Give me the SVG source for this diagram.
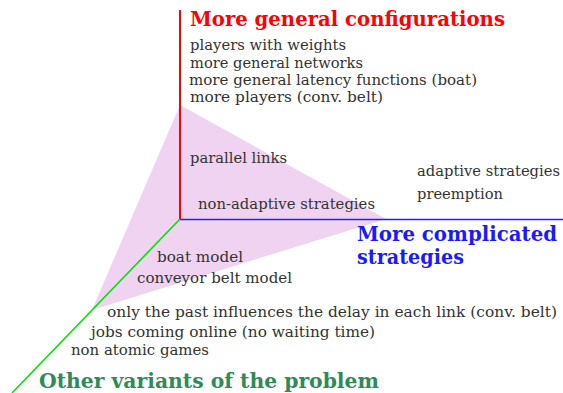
<svg xmlns="http://www.w3.org/2000/svg" width="563" height="393" viewBox="0 0 563 393">
  <style>
    .t { font-family: "DejaVu Serif", "Liberation Serif", serif; font-size: 15px; fill: #333333; }
    .h { font-family: "DejaVu Serif", "Liberation Serif", serif; font-size: 20px; font-weight: bold; }
    .axis { fill: none; stroke-linecap: butt; }
  </style>
  <rect width="563" height="393" fill="#ffffff"/>

  <!-- shaded region spanned by the three axes -->
  <polygon id="region" points="180,105 386,219 92,310" fill="#efd3f0"/>

  <!-- axes -->
  <g id="connectors">
    <line class="axis" x1="180" y1="10" x2="180" y2="219" stroke="#ff0000" stroke-width="2"/>
    <line class="axis" x1="180" y1="219.5" x2="563" y2="219.5" stroke="#2020ff" stroke-width="1.5"/>
    <line class="axis" x1="180" y1="219" x2="12" y2="393" stroke="#00e600" stroke-width="1.6"/>
  </g>

  <!-- vertical axis: configurations -->
  <g id="configurations">
    <text class="h" x="190" y="26" fill="#ff0000" textLength="315" lengthAdjust="spacingAndGlyphs">More general configurations</text>
    <text class="t" x="190" y="50" textLength="156" lengthAdjust="spacingAndGlyphs">players with weights</text>
    <text class="t" x="190" y="67.5" textLength="173" lengthAdjust="spacingAndGlyphs">more general networks</text>
    <text class="t" x="189" y="85" textLength="288" lengthAdjust="spacingAndGlyphs">more general latency functions (boat)</text>
    <text class="t" x="190" y="102" textLength="193" lengthAdjust="spacingAndGlyphs">more players (conv. belt)</text>
    <text class="t" x="190" y="163" textLength="97" lengthAdjust="spacingAndGlyphs">parallel links</text>
  </g>

  <!-- horizontal axis: strategies -->
  <g id="strategies">
    <text class="t" x="198" y="209" textLength="177" lengthAdjust="spacingAndGlyphs">non-adaptive strategies</text>
    <text class="t" x="417" y="176" textLength="143" lengthAdjust="spacingAndGlyphs">adaptive strategies</text>
    <text class="t" x="417" y="199" textLength="86" lengthAdjust="spacingAndGlyphs">preemption</text>
    <text class="h" x="357" y="241" fill="#1a1aff" textLength="200" lengthAdjust="spacingAndGlyphs">More complicated</text>
    <text class="h" x="357" y="264" fill="#1a1aff" textLength="107" lengthAdjust="spacingAndGlyphs">strategies</text>
  </g>

  <!-- diagonal axis: variants -->
  <g id="variants">
    <text class="t" x="157" y="262" textLength="86" lengthAdjust="spacingAndGlyphs">boat model</text>
    <text class="t" x="137" y="283" textLength="155" lengthAdjust="spacingAndGlyphs">conveyor belt model</text>
    <text class="t" x="107" y="317" textLength="450" lengthAdjust="spacingAndGlyphs">only the past influences the delay in each link (conv. belt)</text>
    <text class="t" x="91" y="337" textLength="284" lengthAdjust="spacingAndGlyphs">jobs coming online (no waiting time)</text>
    <text class="t" x="71" y="355" textLength="138" lengthAdjust="spacingAndGlyphs">non atomic games</text>
    <text class="h" x="39" y="388" fill="#2e8b57" textLength="340" lengthAdjust="spacingAndGlyphs">Other variants of the problem</text>
  </g>
</svg>
